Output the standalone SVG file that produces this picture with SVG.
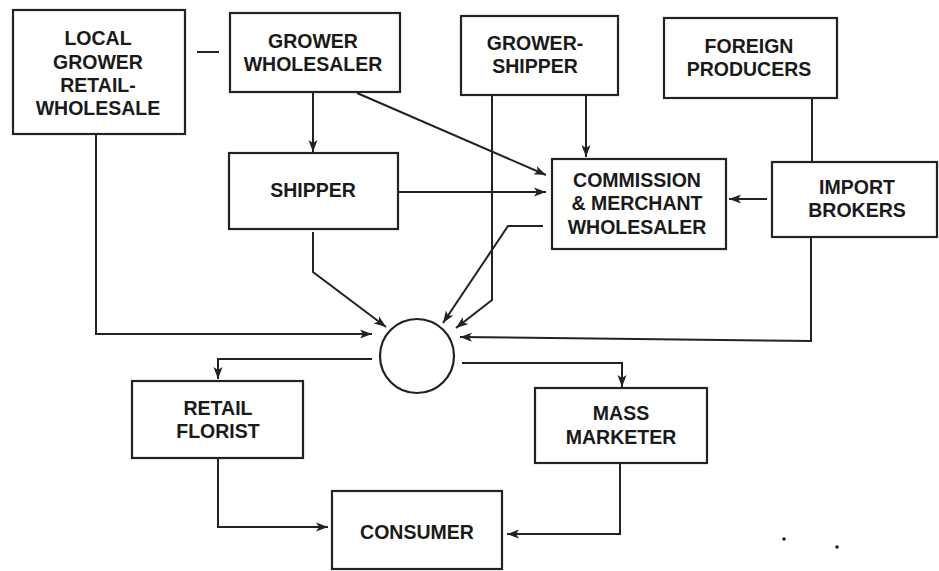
<svg xmlns="http://www.w3.org/2000/svg" width="939" height="571" viewBox="0 0 939 571">
<style>
  .box{fill:#fff;stroke:#222;stroke-width:2.2}
  .lbl{font-family:"Liberation Sans",Arial,sans-serif;font-weight:bold;font-size:19.5px;fill:#1a1a1a;text-anchor:middle}
  .c{fill:none;stroke:#222;stroke-width:2}
  .a{marker-end:url(#ah)}
</style>
<defs>
  <marker id="ah" markerUnits="userSpaceOnUse" markerWidth="13" markerHeight="10" refX="12" refY="5" orient="auto">
    <path d="M0,0.5 L12,5 L0,9.5 L3,5 z" fill="#222"/>
  </marker>
</defs>
<rect width="939" height="571" fill="#fff"/>
<g id="connectors">
  <path class="c a" d="M96,135 V334 H372"/>
  <path class="c" d="M197,52 H219"/>
  <path class="c a" d="M313,92 V152"/>
  <path class="c a" d="M357,93 L546,175"/>
  <path class="c a" d="M398,192 H546"/>
  <path class="c a" d="M313,232 V272 L386,327"/>
  <path class="c a" d="M492,95 V300 L456,328"/>
  <path class="c a" d="M586,95 V157"/>
  <path class="c a" d="M543,226 H508 L443,323"/>
  <path class="c" d="M812,98 V162"/>
  <path class="c a" d="M767,199 H729"/>
  <path class="c a" d="M811,237 V341 L460,337"/>
  <path class="c a" d="M372,359 H218 V379"/>
  <path class="c a" d="M462,363 H622 V387"/>
  <path class="c a" d="M218,458 V527 H328"/>
  <path class="c a" d="M620,463 V534 H507"/>
</g>
<g id="local-grower">
  <rect class="box" x="13" y="10" width="172" height="124"/>
  <text class="lbl" x="98" y="45">LOCAL</text>
  <text class="lbl" x="98" y="69">GROWER</text>
  <text class="lbl" x="98" y="92">RETAIL-</text>
  <text class="lbl" x="98" y="115">WHOLESALE</text>
</g>
<g id="grower-wholesaler">
  <rect class="box" x="230" y="13" width="170" height="79"/>
  <text class="lbl" x="313" y="48">GROWER</text>
  <text class="lbl" x="313" y="71">WHOLESALER</text>
</g>
<g id="grower-shipper">
  <rect class="box" x="461" y="16" width="157" height="79"/>
  <text class="lbl" x="535" y="50">GROWER-</text>
  <text class="lbl" x="535" y="73">SHIPPER</text>
</g>
<g id="foreign-producers">
  <rect class="box" x="664" y="18" width="173" height="80"/>
  <text class="lbl" x="749" y="53">FOREIGN</text>
  <text class="lbl" x="749" y="76">PRODUCERS</text>
</g>
<g id="shipper">
  <rect class="box" x="229" y="153" width="169" height="76"/>
  <text class="lbl" x="313" y="197">SHIPPER</text>
</g>
<g id="commission">
  <rect class="box" x="552" y="159" width="174" height="90"/>
  <text class="lbl" x="637" y="187">COMMISSION</text>
  <text class="lbl" x="637" y="210">&amp; MERCHANT</text>
  <text class="lbl" x="637" y="234">WHOLESALER</text>
</g>
<g id="import-brokers">
  <rect class="box" x="772" y="162" width="165" height="75"/>
  <text class="lbl" x="857" y="194">IMPORT</text>
  <text class="lbl" x="857" y="217">BROKERS</text>
</g>
<g id="hub">
  <circle cx="417" cy="356" r="37" fill="#fff" stroke="#222" stroke-width="2.2"/>
</g>
<g id="retail-florist">
  <rect class="box" x="132" y="381" width="171" height="77"/>
  <text class="lbl" x="218" y="415">RETAIL</text>
  <text class="lbl" x="218" y="438">FLORIST</text>
</g>
<g id="mass-marketer">
  <rect class="box" x="535" y="388" width="172" height="75"/>
  <text class="lbl" x="621" y="420">MASS</text>
  <text class="lbl" x="621" y="444">MARKETER</text>
</g>
<g id="consumer">
  <rect class="box" x="332" y="491" width="170" height="78"/>
  <text class="lbl" x="417" y="539">CONSUMER</text>
</g>
<circle cx="784" cy="539" r="1.8" fill="#222"/>
<circle cx="837" cy="547" r="1.8" fill="#222"/>
</svg>
